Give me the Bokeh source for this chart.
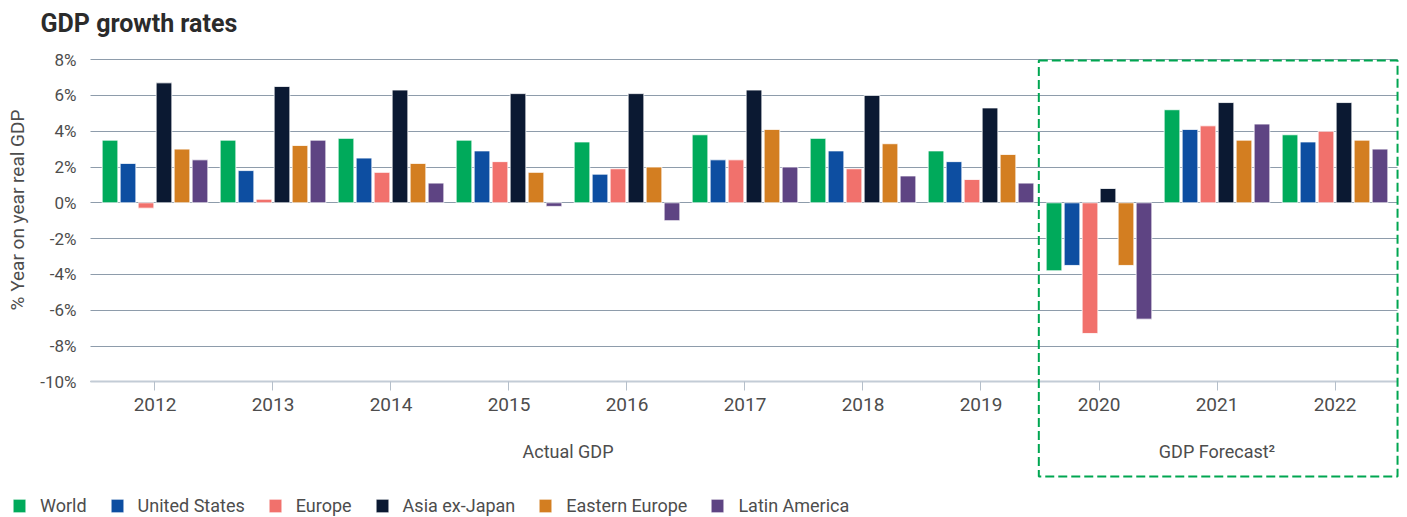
from bokeh.plotting import figure
from bokeh.models import (Range1d, FixedTicker, Label, BoxAnnotation, Legend, LegendItem,
                          ColumnDataSource, PrintfTickFormatter)
from bokeh.embed import file_html
from bokeh.resources import INLINE
from bokeh.transform import dodge

years = ["2012", "2013", "2014", "2015", "2016", "2017", "2018", "2019", "2020", "2021", "2022"]
world = [3.5, 3.5, 3.6, 3.5, 3.4, 3.8, 3.6, 2.9, -3.8, 5.2, 3.8]
united_states = [2.2, 1.8, 2.5, 2.9, 1.6, 2.4, 2.9, 2.3, -3.5, 4.1, 3.4]
europe = [-0.3, 0.2, 1.7, 2.3, 1.9, 2.4, 1.9, 1.3, -7.3, 4.3, 4.0]
asia_ex_japan = [6.7, 6.5, 6.3, 6.1, 6.1, 6.3, 6.0, 5.3, 0.8, 5.6, 5.6]
eastern_europe = [3.0, 3.2, 2.2, 1.7, 2.0, 4.1, 3.3, 2.7, -3.5, 3.5, 3.5]
latin_america = [2.4, 3.5, 1.1, -0.2, -1.0, 2.0, 1.5, 1.1, -6.5, 4.4, 3.0]
y_ticks = [-10, -8, -6, -4, -2, 0, 2, 4, 6, 8]

series_names = ["World", "United States", "Europe", "Asia ex-Japan", "Eastern Europe", "Latin America"]
series_keys = ["world", "us", "europe", "asia", "ee", "latam"]
colors = ["#00AA5B", "#0D4EA1", "#F1716C", "#0B1932", "#D37E21", "#5E4483"]

FONT = "Roboto"
TEXT = "#4d4d4d"
GRID = "#8E9CAB"

# axis extents (data units)
X_LEFT, X_RIGHT = -0.5466, 10.53
Y_MIN, Y_MAX = -10, 8

x_idx = list(range(len(years)))
source = ColumnDataSource(data=dict(
    x=x_idx, world=world, us=united_states, europe=europe,
    asia=asia_ex_japan, ee=eastern_europe, latam=latin_america))

p = figure(frame_width=1403, frame_height=516,
           min_border_left=0, min_border_right=0, min_border_top=0, min_border_bottom=0,
           x_range=Range1d(-1.3093, 10.5805), y_range=Range1d(-17.525, 11.3017),
           output_backend="svg", toolbar_location=None, outline_line_color=None)

# horizontal gridlines limited to the plotting area
g = p.ygrid[0]
if "cross_bounds" in g.properties():
    g.cross_bounds = (X_LEFT, X_RIGHT)
    g.grid_line_color = GRID
    g.grid_line_width = 1
else:
    g.grid_line_color = None
    p.segment(x0=[X_LEFT] * len(y_ticks), x1=[X_RIGHT] * len(y_ticks), y0=y_ticks, y1=y_ticks,
              line_color=GRID, line_width=1, level="underlay")
p.xgrid.grid_line_color = None

pitch = 0.1525
bw = 0.133
renderers = []
for i, (k, c) in enumerate(zip(series_keys, colors)):
    r = p.vbar(x=dodge("x", (i - 2.5) * pitch, range=p.x_range), top=k, bottom=0, width=bw,
               source=source, fill_color=c, line_color="white", line_width=0.8)
    renderers.append(r)

# x axis
p.xaxis.fixed_location = Y_MIN
p.xaxis.bounds = (X_LEFT, X_RIGHT)
p.xaxis.ticker = FixedTicker(ticks=x_idx)
p.xaxis.major_label_overrides = {i: y for i, y in enumerate(years)}
p.xaxis.axis_line_color = "#C3CCD6"
p.xaxis.axis_line_width = 2
p.xaxis.major_tick_line_color = "#B5BFCA"
p.xaxis.major_tick_out = 9
p.xaxis.major_tick_in = 0
p.xaxis.minor_tick_line_color = None
p.xaxis.major_label_text_font = FONT
p.xaxis.major_label_text_font_size = "19px"
p.xaxis.major_label_text_color = TEXT
p.xaxis.major_label_standoff = 7

# y axis
p.yaxis.fixed_location = X_LEFT
p.yaxis.bounds = (Y_MIN, 9.2)
p.yaxis.ticker = FixedTicker(ticks=y_ticks)
p.yaxis.formatter = PrintfTickFormatter(format="%d%%")
p.yaxis.axis_line_color = None
p.yaxis.major_tick_line_color = None
p.yaxis.minor_tick_line_color = None
p.yaxis.major_label_text_font = FONT
p.yaxis.major_label_text_font_size = "17px"
p.yaxis.major_label_text_color = TEXT
p.yaxis.major_label_standoff = 8
p.yaxis.axis_label = "% Year on year real GDP"
p.yaxis.axis_label_text_font = FONT
p.yaxis.axis_label_text_font_size = "19px"
p.yaxis.axis_label_text_font_style = "normal"
p.yaxis.axis_label_text_color = TEXT
p.yaxis.axis_label_standoff = 8

# forecast box
box = BoxAnnotation(left=7.49, right=X_RIGHT, top=7.95, bottom=-15.29,
                    fill_alpha=0, line_color="#00A651", line_alpha=1, line_width=2, line_dash="9 4")
p.add_layout(box)

p.add_layout(Label(x=3.5, y=-13.894, text="Actual GDP", text_align="center", text_baseline="middle",
                   text_font=FONT, text_font_size="18px", text_color=TEXT))
p.add_layout(Label(x=9.0, y=-13.894, text="GDP Forecast\u00b2", text_align="center", text_baseline="middle",
                   text_font=FONT, text_font_size="18px", text_color=TEXT))
p.add_layout(Label(x=-0.97, y=10.03, text="GDP growth rates", text_align="left", text_baseline="alphabetic",
                   text_font=FONT, text_font_size="25px", text_font_style="bold", text_color="#2b2b2b"))

legend = Legend(items=[LegendItem(label=n, renderers=[r]) for n, r in zip(series_names, renderers)],
                orientation="horizontal", location=(11, 0),
                glyph_width=16, glyph_height=17, label_height=17, label_standoff=13, spacing=22,
                padding=0, margin=0, border_line_alpha=0, background_fill_alpha=0,
                label_text_font=FONT, label_text_font_size="18px", label_text_color=TEXT)
p.add_layout(legend)

open("out.html", "w").write(file_html(p, INLINE))
